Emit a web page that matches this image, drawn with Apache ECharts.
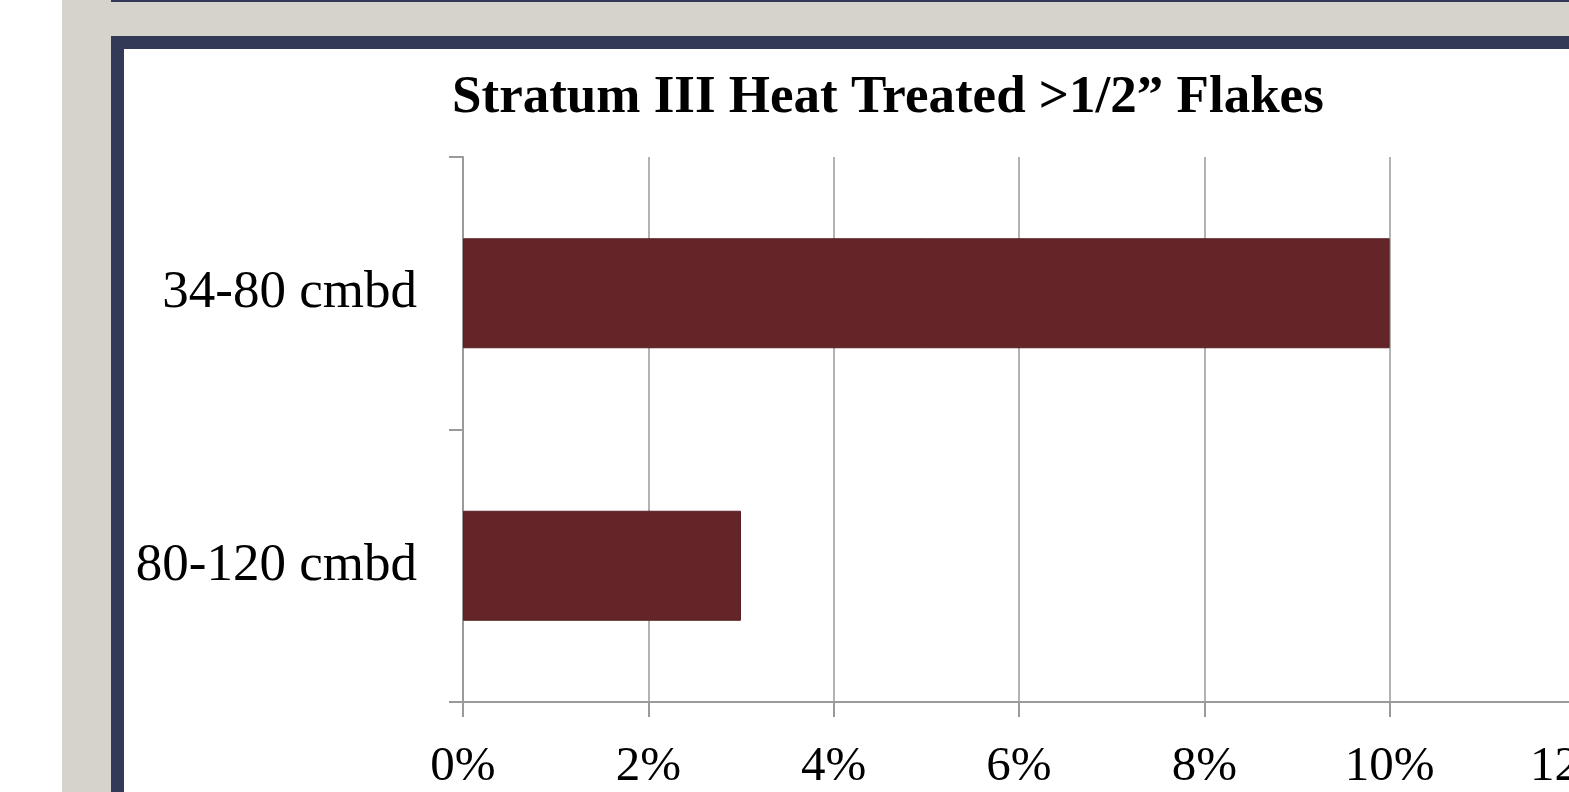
<!DOCTYPE html>
<html>
<head>
<meta charset="utf-8">
<script src="https://cdn.jsdelivr.net/npm/echarts@6/dist/echarts.min.js"></script>
<style>
  html, body { margin: 0; padding: 0; width: 1569px; height: 792px; overflow: hidden; background: #ffffff; }
  /* slide frame behind the chart */
  .beige { position: absolute; left: 62px; top: 0; width: 1600px; height: 800px; background: #d6d2cc; }
  .topline { position: absolute; left: 111px; top: 0; width: 1600px; height: 2px; background: #323a58; }
  .frame { position: absolute; left: 111px; top: 36px; width: 1600px; height: 800px; background: #ffffff;
           border: 13px solid #323a58; box-sizing: border-box; }
  #chart { position: absolute; left: 0; top: 0; width: 1700px; height: 792px; }
</style>
</head>
<body>
<div class="beige"></div>
<div class="topline"></div>
<div class="frame"></div>
<div id="chart"></div>
<script>
const TITLE = "Stratum III Heat Treated >1/2\u201D Flakes";
const categories = ["34-80 cmbd", "80-120 cmbd"];
const heatTreatedShare = [0.10, 0.03];
const xTicks = [0, 0.02, 0.04, 0.06, 0.08, 0.10, 0.12];

const FONT = "'Liberation Serif', 'Times New Roman', serif";
const GRID_GRAY = "#9a9a9a";

const chart = echarts.init(document.getElementById("chart"), null, { renderer: "canvas" });

chart.setOption({
  backgroundColor: "transparent",
  animation: false,
  title: {
    text: TITLE,
    left: 447,
    top: 67,
    textStyle: { fontFamily: FONT, fontWeight: "bold", fontSize: 53, color: "#000" }
  },
  grid: { left: 463, top: 157, right: 125, bottom: 87 },
  xAxis: {
    type: "value",
    min: xTicks[0],
    max: xTicks[xTicks.length - 1],
    interval: 0.02,
    axisLine: { show: true, lineStyle: { color: GRID_GRAY, width: 2 } },
    axisTick: { show: true, length: 15, lineStyle: { color: GRID_GRAY, width: 2 } },
    splitLine: { show: true, lineStyle: { color: GRID_GRAY, width: 1.5 } },
    axisLabel: {
      margin: 41,
      fontFamily: FONT, fontSize: 49, color: "#000",
      formatter: (v) => Math.round(v * 100) + "%"
    }
  },
  yAxis: {
    type: "category",
    data: categories,
    inverse: true,
    axisLine: { show: true, lineStyle: { color: GRID_GRAY, width: 2 } },
    axisTick: { show: true, length: 14, lineStyle: { color: GRID_GRAY, width: 2 } },
    axisLabel: { margin: 46, fontFamily: FONT, fontSize: 53, color: "#000", padding: [14, 0, 0, 0] }
  },
  series: [
    {
      type: "bar",
      data: heatTreatedShare,
      barWidth: 110,
      itemStyle: { color: "#632528", borderColor: "#5a2024", borderWidth: 1 }
    }
  ]
});
</script>
</body>
</html>
